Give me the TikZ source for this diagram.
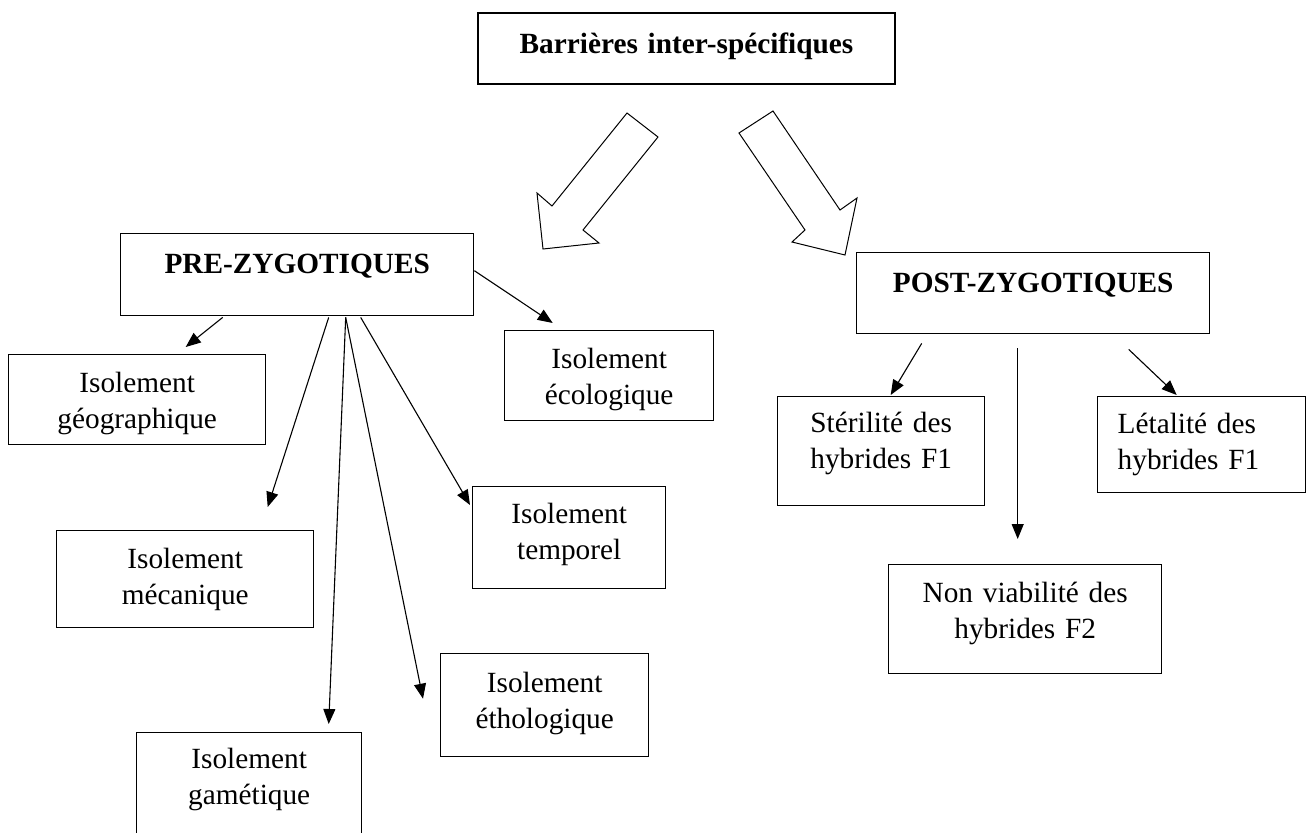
\documentclass[tikz,border=0pt]{standalone}
\usepackage{fontspec}
\setmainfont{Liberation Serif}
\usepackage{tikz}
\usetikzlibrary{arrows.meta}
\tikzstyle{line} = [draw, -{Triangle[length=15pt,width=12pt]}, line width=1.1pt]
\tikzstyle{boite} = [draw, line width=1.4pt, anchor=north west, inner xsep=0pt, inner ysep=0pt, align=center]
\tikzstyle{fleche} = [draw, line width=1pt, line join=miter, fill=white]

\begin{document}
\begin{tikzpicture}[x=1pt,y=-1pt]
	\tikzstyle{every node}=[font=\fontsize{29.3}{35.5}\selectfont]
	\useasboundingbox (0,0) rectangle (1310,833);
	\clip (0,0) rectangle (1310,833);
	
	% ------------------- Boxes ------------------- %
	\node[boite, line width=2pt, text width=417pt, text height=40pt, text depth=31pt] (barr) at (477,12) {\textbf{Barrières inter-spécifiques}};
	
	\node[boite, text width=353pt, text height=40pt, text depth=42pt] (pre) at (120,233) {\textbf{PRE-ZYGOTIQUES}};
	\node[boite, text width=353pt, text height=40pt, text depth=41pt] (post) at (856,252) {\textbf{POST-ZYGOTIQUES}};
	
	\node[boite, text width=209pt, text height=38pt, text depth=52pt] (eco) at (504,330) {Isolement\\écologique};
	\node[boite, text width=257pt, text height=38pt, text depth=52pt] (geo) at (8,354) {Isolement\\géographique};
	\node[boite, text width=257pt, text height=38pt, text depth=59pt] (meca) at (56,530) {Isolement\\mécanique};
	\node[boite, text width=193pt, text height=37pt, text depth=65pt] (temp) at (472,486) {Isolement\\temporel};
	\node[boite, text width=208pt, text height=39pt, text depth=64pt] (etho) at (440,653) {Isolement\\éthologique};
	\node[boite, text width=225pt, text height=36pt, text depth=80pt] (game) at (136,732) {Isolement\\gamétique};
	
	\node[boite, text width=207pt, text height=36pt, text depth=73pt] (ster) at (777,396) {Stérilité des\\hybrides F1};
	\node[boite, align=left, inner xsep=20pt, text width=168pt, text height=37pt, text depth=59pt] (leta) at (1097,396) {Létalité des\\hybrides F1};
	\node[boite, text width=273pt, text height=38pt, text depth=71pt] (nonv) at (888,564) {Non viabilité des\\hybrides F2};
	
	% ------------------- Block arrows ------------------- %
	\draw[fleche] (627,113) -- (658,137) -- (583,230) -- (599,243) -- (543,249) -- (537,193) -- (552,206) -- cycle;
	\draw[fleche] (773,111) -- (739,133) -- (805,230) -- (792,242) -- (845,255) -- (857,198) -- (840,210) -- cycle;
	
	% ------------------- Pre-zygotic arrows ------------------- %
	\draw[line] ([xshift=-74.5pt,yshift=-1pt]pre.south) -- ([xshift=48.5pt,yshift=7pt]geo.north);
	\draw[line] ([xshift=31.5pt,yshift=-1pt]pre.south) -- ([xshift=82.5pt,yshift=23pt]meca.north);
	\draw[line] ([xshift=48.5pt,yshift=-1pt]pre.south) -- ([xshift=79.5pt,yshift=8pt]game.north);
	\draw[line] ([xshift=48.5pt,yshift=-1pt]pre.south) -- ([xshift=-17pt,yshift=6.5pt]etho.west);
	\draw[line] ([xshift=63.5pt,yshift=-1pt]pre.south) -- ([xshift=-2pt,yshift=-19pt]temp.north west);
	\draw[line] ([yshift=4pt]pre.east) -- ([xshift=-56.5pt,yshift=7pt]eco.north);
	
	% ------------------- Post-zygotic arrows ------------------- %
	\draw[line] ([xshift=-111.5pt,yshift=-9pt]post.south) -- ([xshift=9.5pt,yshift=1pt]ster.north);
	\draw[line] ([xshift=-15.5pt,yshift=-14pt]post.south) -- ([xshift=-7.5pt,yshift=25pt]nonv.north);
	\draw[line] ([xshift=95.5pt,yshift=-15pt]post.south) -- ([xshift=-25pt,yshift=1pt]leta.north);
\end{tikzpicture}
\end{document}
